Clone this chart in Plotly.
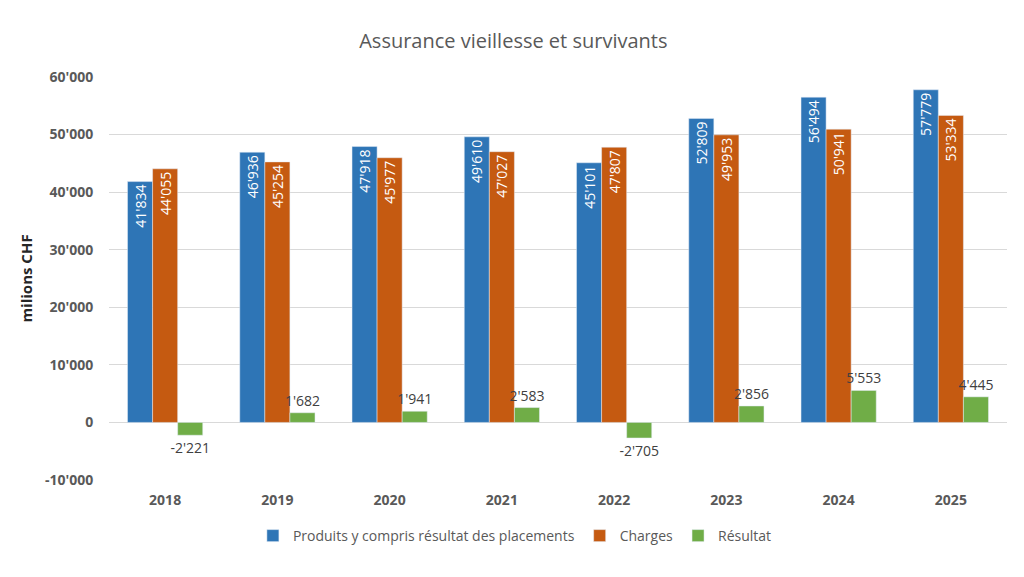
import plotly.graph_objects as go

# Données
annees = ['2018', '2019', '2020', '2021', '2022', '2023', '2024', '2025']
produits = [41834, 46936, 47918, 49610, 45101, 52809, 56494, 57779]
charges = [44055, 45254, 45977, 47027, 47807, 49953, 50941, 53334]
resultat = [-2221, 1682, 1941, 2583, -2705, 2856, 5553, 4445]
y_ticks = [-10000, 0, 10000, 20000, 30000, 40000, 50000, 60000]


def fmt(v):
    # séparateur de milliers suisse : 41'834
    return f"{v:,}".replace(",", "'")


police = "Open Sans"
gris = '#595959'

fig = go.Figure()

fig.add_trace(go.Bar(
    x=annees, y=produits, name='Produits y compris résultat des placements',
    marker_color='#2E75B6',
    text=[fmt(v) for v in produits], textposition='inside',
    insidetextanchor='end', textangle=-90, constraintext='none',
    textfont=dict(color='white', size=14, family=police),
))

fig.add_trace(go.Bar(
    x=annees, y=charges, name='Charges',
    marker_color='#C55A11',
    text=[fmt(v) for v in charges], textposition='inside',
    insidetextanchor='end', textangle=-90, constraintext='none',
    textfont=dict(color='white', size=14, family=police),
))

fig.add_trace(go.Bar(
    x=annees, y=resultat, name='Résultat',
    marker_color='#70AD47',
    text=[fmt(v) for v in resultat], textposition='outside',
    textangle=0, cliponaxis=False, constraintext='none',
    textfont=dict(color='#404040', size=14, family=police),
))

# la page ajoute 8 px de marge au corps : marges gauche/haut réduites d'autant
fig.update_layout(
    width=1024, height=577,
    barmode='group', bargap=0.33, bargroupgap=0,
    plot_bgcolor='white', paper_bgcolor='white',
    font=dict(family=police, color=gris),
    title=dict(text='Assurance vieillesse et survivants', x=0.4935, xanchor='center',
               y=0.943, yanchor='middle', font=dict(size=20, color=gris)),
    margin=dict(l=101, r=25, t=69, b=105),
    xaxis=dict(tickfont=dict(size=14, color=gris, weight='bold'), ticks='',
               ticklabelstandoff=10, showline=False),
    yaxis=dict(range=[-10000, 60000], tickvals=y_ticks,
               ticktext=[fmt(v) for v in y_ticks],
               tickfont=dict(size=14, color=gris, weight='bold'),
               gridcolor='#D9D9D9', zeroline=True, zerolinecolor='#D9D9D9',
               zerolinewidth=1, ticklen=12, tickcolor='white', ticks='outside',
               title=dict(text='milions CHF', standoff=8,
                          font=dict(size=15, color='#262626', weight='bold'))),
    legend=dict(orientation='h', x=0.452, xanchor='center', y=-0.139, yanchor='middle',
                font=dict(size=14, color=gris)),
)

fig.write_html("out.html")
